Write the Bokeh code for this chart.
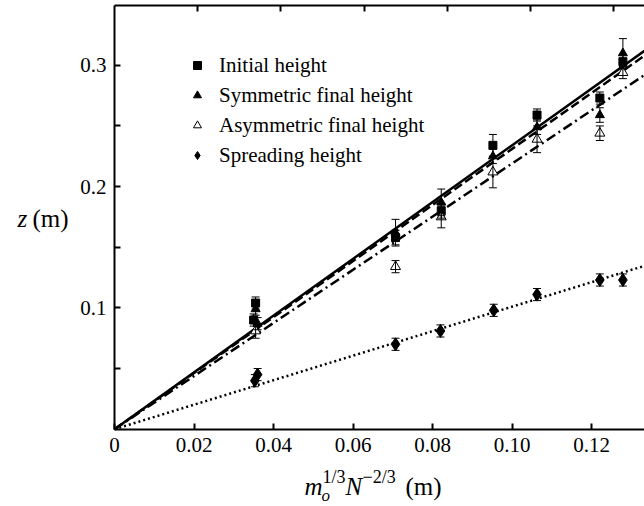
import numpy as np
from bokeh.plotting import figure
from bokeh.models import (Range1d, LinearAxis, FixedTicker, Whisker, TeeHead,
                          ColumnDataSource, Legend, LegendItem, NumeralTickFormatter)
from bokeh.core.properties import value
from bokeh.embed import file_html
from bokeh.resources import INLINE

# ---------------- data ----------------
init_x = [0.0355, 0.0350, 0.0707, 0.0822, 0.0952, 0.1063, 0.1221, 0.1279]
init_y = [0.104, 0.090, 0.158, 0.180, 0.234, 0.259, 0.273, 0.303]
init_err = [0.005, 0.005, 0.006, 0.006, 0.009, 0.005, 0.005, 0.006]

sym_x = [0.0355, 0.0360, 0.0707, 0.0822, 0.0952, 0.1063, 0.1221, 0.1279]
sym_y = [0.099, 0.087, 0.162, 0.187, 0.225, 0.249, 0.259, 0.310]
sym_err = [0.005, 0.005, 0.011, 0.011, 0.006, 0.006, 0.006, 0.012]

asym_x = [0.0355, 0.0707, 0.0822, 0.0952, 0.1063, 0.1221, 0.1279]
asym_y = [0.081, 0.134, 0.175, 0.212, 0.239, 0.244, 0.294]
asym_err = [0.006, 0.005, 0.009, 0.013, 0.011, 0.006, 0.005]

spread_x = [0.0360, 0.0353, 0.0707, 0.0820, 0.0954, 0.1063, 0.1221, 0.1279]
spread_y = [0.045, 0.040, 0.070, 0.081, 0.098, 0.111, 0.123, 0.123]
spread_err = [0.005, 0.005, 0.005, 0.005, 0.005, 0.005, 0.005, 0.005]

# fitted lines through the origin (slopes)
fit_init = 2.34
fit_sym = 2.31
fit_asym = 2.19
fit_spread = 1.01

x_ticks = [0, 0.02, 0.04, 0.06, 0.08, 0.10, 0.12]
y_ticks = [0.1, 0.2, 0.3]
y_minor = [0.05, 0.15, 0.25]
legend_labels = ["Initial height", "Symmetric final height",
                 "Asymmetric final height", "Spreading height"]

FONT = "Liberation Serif"

# the plotting frame fills the whole canvas; axes sit at fixed data positions
X0_PX, Y0_PX = 114.0, 428.7          # pixel position of the origin
SX, SY = 3975.0, 1213.0              # pixels per data unit
XMIN, XMAX = -X0_PX / SX, (644 - X0_PX) / SX
YMIN, YMAX = (Y0_PX - 506) / SY, Y0_PX / SY
Y_TOP = 0.349                        # top frame line

p = figure(width=644, height=506, x_range=Range1d(XMIN, XMAX), y_range=Range1d(YMIN, YMAX),
           output_backend="svg", toolbar_location=None,
           x_axis_location=None, y_axis_location=None, min_border=0,
           min_border_left=0, min_border_right=0, min_border_top=0, min_border_bottom=0)
p.grid.visible = False
p.outline_line_color = None
p.background_fill_color = "white"
p.border_fill_color = "white"


def style_axis(ax):
    ax.axis_line_width = 2
    ax.axis_line_color = "black"
    ax.major_tick_in = 6
    ax.major_tick_out = 0
    ax.minor_tick_in = 6
    ax.minor_tick_out = 0
    ax.major_tick_line_width = 2
    ax.minor_tick_line_width = 2
    ax.major_tick_line_color = "black"
    ax.minor_tick_line_color = "black"
    ax.major_label_text_font = FONT
    ax.major_label_text_font_size = "21px"
    ax.major_label_text_color = "black"
    ax.major_label_standoff = 9


bottom = LinearAxis(ticker=FixedTicker(ticks=x_ticks), fixed_location=0,
                    formatter=NumeralTickFormatter(format="0.00"))
bottom.major_label_overrides = {0: "0"}
bottom.bounds = (0, XMAX)
style_axis(bottom)
p.add_layout(bottom, "below")

left = LinearAxis(ticker=FixedTicker(ticks=y_ticks, minor_ticks=y_minor), fixed_location=0,
                  formatter=NumeralTickFormatter(format="0.0"))
left.bounds = (0, Y_TOP)
style_axis(left)
left.major_label_standoff = 8
p.add_layout(left, "left")

# top frame line with its own (unlabelled) tick spacing
p.extra_x_ranges = {"top": Range1d(XMIN * 79.6 / 83.3, XMAX * 79.6 / 83.3)}
top = LinearAxis(x_range_name="top", ticker=FixedTicker(ticks=x_ticks[1:]), fixed_location=Y_TOP)
top.bounds = (0, XMAX * 79.6 / 83.3)
style_axis(top)
top.major_label_overrides = {t: "" for t in x_ticks[1:]}
p.add_layout(top, "above")

# fitted lines
xl = np.array([0.0, XMAX])
p.line(xl, fit_init * xl, line_color="black", line_width=2.5)
p.line(xl, fit_sym * xl, line_color="black", line_width=2.5, line_dash="9 4")
p.line(xl, fit_asym * xl, line_color="black", line_width=2.5, line_dash="10 4 2 4")
p.line(xl, fit_spread * xl, line_color="black", line_width=2.5, line_dash="2 3")


def whiskers(xs, ys, es):
    src = ColumnDataSource(dict(x=xs, upper=[y + e for y, e in zip(ys, es)],
                                lower=[y - e for y, e in zip(ys, es)]))
    w = Whisker(source=src, base="x", upper="upper", lower="lower",
                line_color="black", line_width=1,
                upper_head=TeeHead(size=8, line_width=1, line_color="black"),
                lower_head=TeeHead(size=8, line_width=1, line_color="black"))
    w.level = "glyph"
    p.add_layout(w)


whiskers(init_x, init_y, init_err)
whiskers(sym_x, sym_y, sym_err)
whiskers(asym_x, asym_y, asym_err)
whiskers(spread_x, spread_y, spread_err)

r1 = p.scatter(init_x, init_y, marker="square", size=8, fill_color="black", line_color="black")
r2 = p.scatter(sym_x, sym_y, marker="triangle", size=9, fill_color="black", line_color="black")
r3 = p.scatter(asym_x, asym_y, marker="triangle", size=10, fill_color="white", line_color="black",
               line_width=1)
r4 = p.scatter(spread_x, spread_y, marker="diamond", size=13, fill_color="black", line_color="black")

legend = Legend(items=[LegendItem(label=legend_labels[0], renderers=[r1]),
                       LegendItem(label=legend_labels[1], renderers=[r2]),
                       LegendItem(label=legend_labels[2], renderers=[r3]),
                       LegendItem(label=legend_labels[3], renderers=[r4])],
                location=(187, 336), orientation="vertical",
                glyph_width=20, glyph_height=30, label_standoff=12, spacing=0,
                padding=0, margin=0, border_line_color=None, background_fill_alpha=0,
                label_text_font=FONT, label_text_font_size="21px", label_text_color="black")
p.add_layout(legend)


def add_text(text, sx, sy, size="25px", style="normal"):
    x = (sx - X0_PX) / SX
    y = (Y0_PX - sy) / SY
    p.text(x=[x], y=[y], text=[text], text_font=value(FONT), text_font_size=value(size),
           text_font_style=value(style), text_color="black",
           text_align="left", text_baseline="alphabetic")


# y axis label  "z (m)"
add_text("z", 17, 218, style="italic")
add_text("(m)", 32, 218)

# x axis label  m_o^{1/3} N^{-2/3} (m)
add_text("m", 304, 486, style="italic")
add_text("o", 321, 495, size="17px", style="italic")
add_text("1/3", 322, 476, size="18px")
add_text("N", 345, 486, style="italic")
add_text("\u22122/3", 362, 476, size="18px")
add_text("(m)", 405, 486)

open("out.html", "w").write(file_html(p, INLINE))
